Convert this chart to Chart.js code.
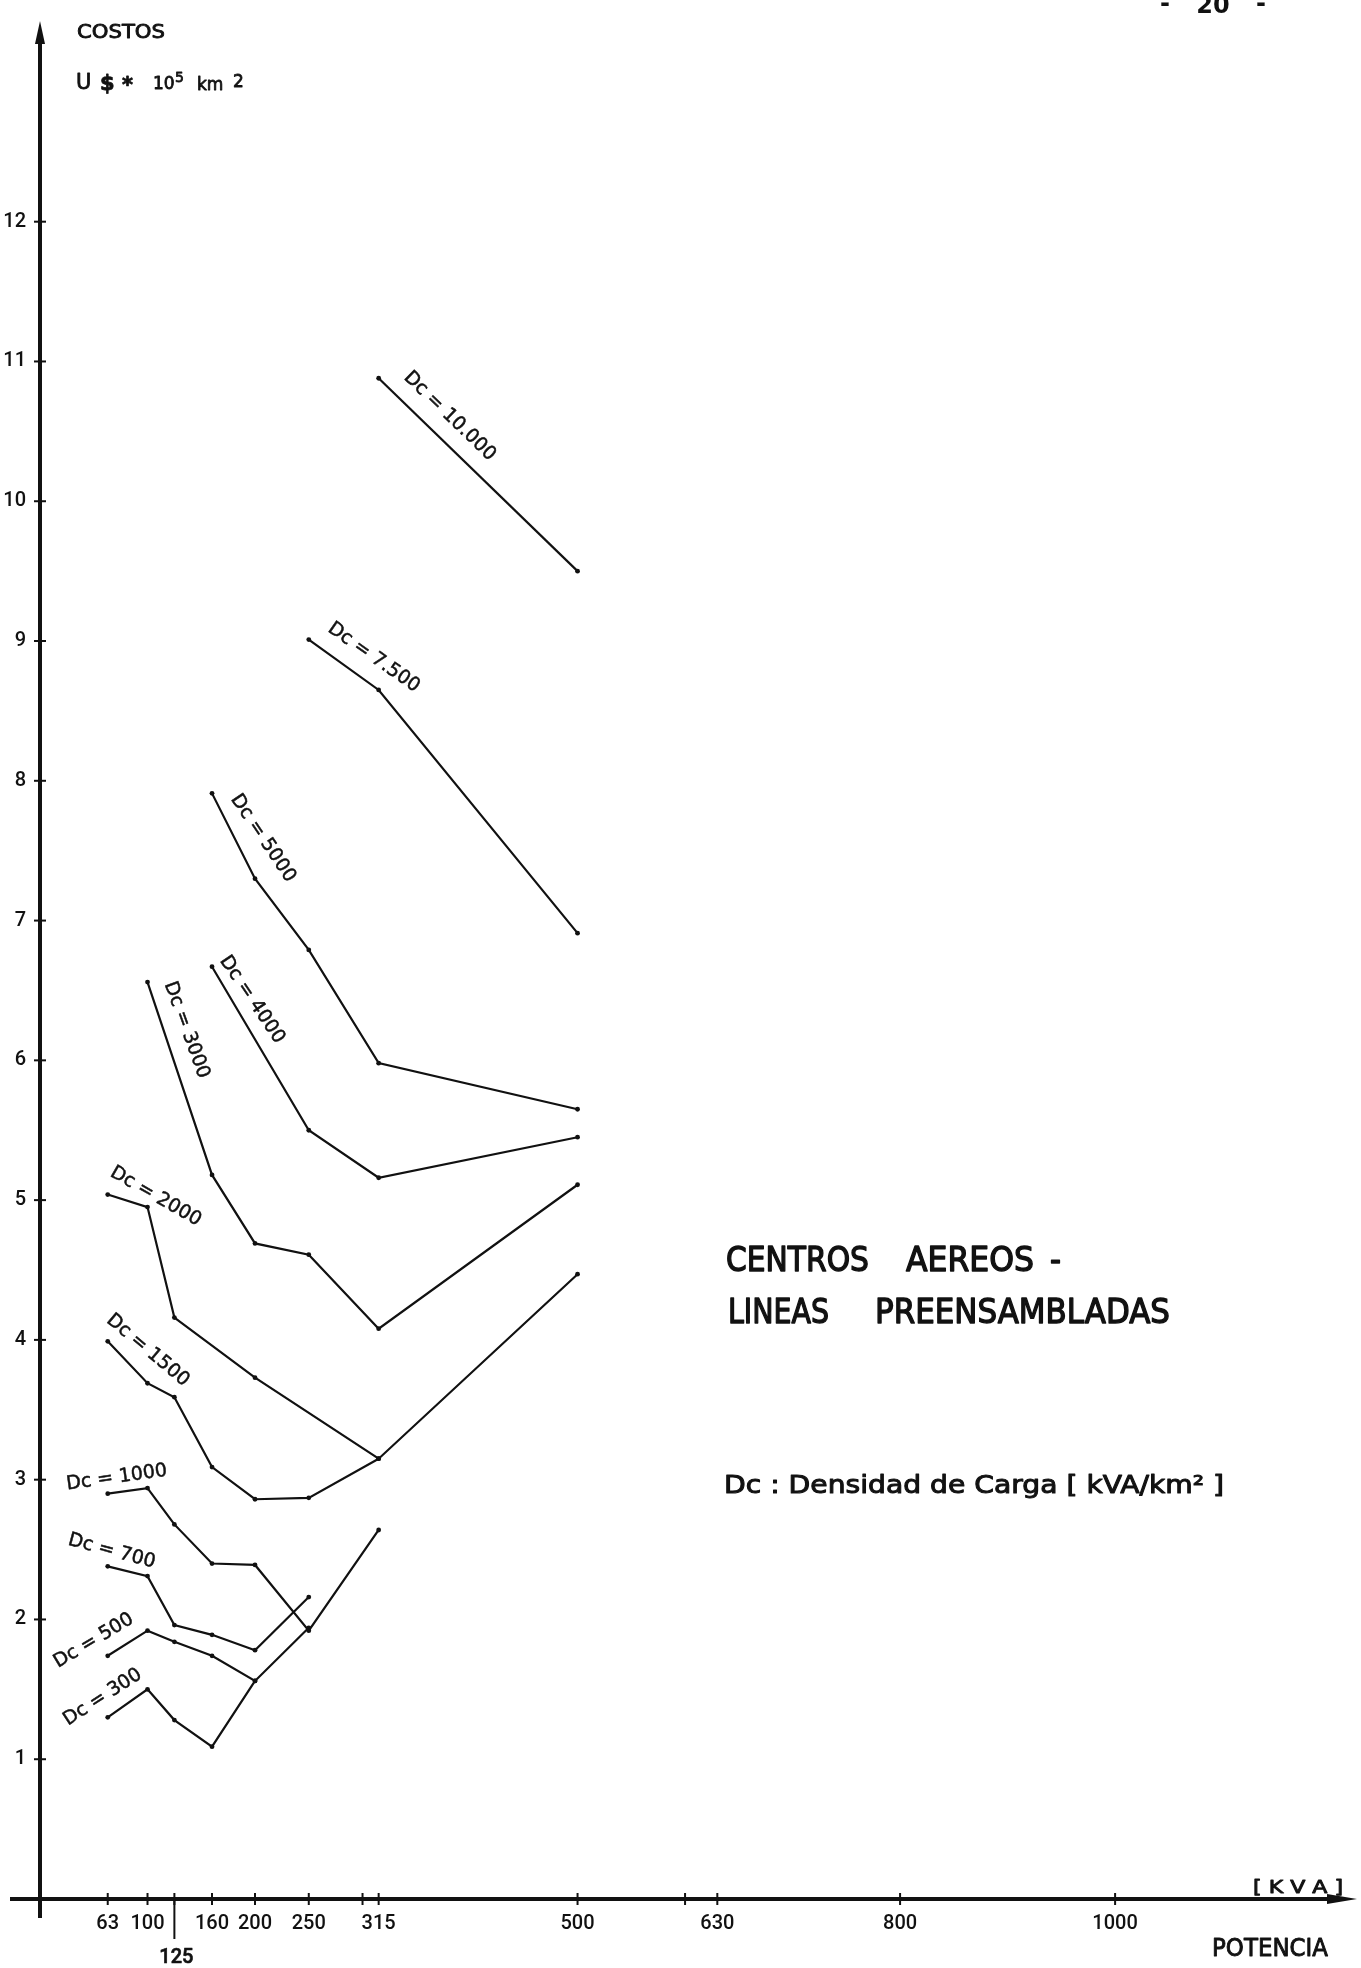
<!DOCTYPE html>
<html>
<head>
<meta charset="utf-8">
<script src="https://cdn.jsdelivr.net/npm/chart.js@4.4.1/dist/chart.umd.min.js"></script>
<style>
  html, body { margin: 0; padding: 0; background: #fff; }
  canvas { display: block; }
</style>
</head>
<body>
<canvas id="graphic" width="1361" height="1968"></canvas>
<script>
  // potencia nominal de los centros (kVA)
  const kvaRatings = [63, 100, 125, 160, 200, 250, 315, 500];

  // marcas del eje x y sus rotulos ("" = marca sin rotulo)
  const xTicks  = [63, 100, 125, 160, 200, 250, 300, 315, 500, 600, 630, 800, 1000];
  const xLabels = ["63", "100", "", "160", "200", "250", "", "315", "500", "", "630", "800", "1000"];
  const yTicks  = [1, 2, 3, 4, 5, 6, 7, 8, 9, 10, 11, 12];

  // costos (U$ * 10^5 km2) por densidad de carga, null = sin punto
  const dc300   = [1.30, 1.50, 1.28, 1.09, 1.56, null, null, null];
  const dc500   = [1.74, 1.92, 1.84, 1.74, 1.56, 1.94, null, null];
  const dc700   = [2.38, 2.31, 1.96, 1.89, 1.78, 2.16, null, null];
  const dc1000  = [2.90, 2.94, 2.68, 2.40, 2.39, 1.92, 2.64, null];
  const dc1500  = [3.99, 3.69, 3.59, 3.09, 2.86, 2.87, 3.15, null];
  const dc2000  = [5.04, 4.95, 4.16, null, 3.73, null, 3.15, 4.47];
  const dc3000  = [null, 6.56, null, 5.18, 4.69, 4.61, 4.08, 5.11];
  const dc4000  = [null, null, null, 6.67, null, 5.50, 5.16, 5.45];
  const dc5000  = [null, null, null, 7.91, 7.30, 6.79, 5.98, 5.65];
  const dc7500  = [null, null, null, null, null, 9.01, 8.65, 6.91];
  const dc10000 = [null, null, null, null, null, null, 10.88, 9.50];

  const series = [
    { name: "Dc = 300",    values: dc300 },
    { name: "Dc = 500",    values: dc500 },
    { name: "Dc = 700",    values: dc700 },
    { name: "Dc = 1000",   values: dc1000 },
    { name: "Dc = 1500",   values: dc1500 },
    { name: "Dc = 2000",   values: dc2000 },
    { name: "Dc = 3000",   values: dc3000 },
    { name: "Dc = 4000",   values: dc4000 },
    { name: "Dc = 5000",   values: dc5000 },
    { name: "Dc = 7.500",  values: dc7500 },
    { name: "Dc = 10.000", values: dc10000 },
  ];

  // rotulo de cada curva: desplazamiento desde su primer punto y angulo
  const labelPlacement = [
    [-5, -20, -33], [-14, -15, -31], [4, -15, 15], [9, -16, -8],
    [40, 9, 40], [48, 2, 30], [39, 48, 70], [40, 33, 56],
    [51, 45, 56], [65, 18, 35], [71, 38, 44],
  ];

  const ink = "#111";

  // texto algo mas grueso, como el rotulado a plantilla
  function heavyText(ctx, text, x, y, weight) {
    ctx.lineWidth = weight;
    ctx.lineJoin = "round";
    ctx.strokeText(text, x, y);
    ctx.fillText(text, x, y);
  }

  function fitText(ctx, text, x, y, width, font, weight) {
    ctx.font = font;
    const w = ctx.measureText(text).width;
    ctx.save();
    ctx.translate(x, y);
    ctx.scale(width / w, 1);
    ctx.textAlign = "left";
    ctx.textBaseline = "alphabetic";
    heavyText(ctx, text, 0, 0, weight || 1);
    ctx.restore();
  }

  function plainText(ctx, text, x, y, font) {
    ctx.font = font;
    ctx.textAlign = "left";
    ctx.textBaseline = "alphabetic";
    heavyText(ctx, text, x, y, 0.8);
  }

  const annotate = {
    id: "annotate",
    afterDraw(chart) {
      const ctx = chart.ctx;
      const xs = chart.scales.x, ys = chart.scales.y;
      const ox = xs.left, oy = ys.bottom;
      ctx.save();
      ctx.fillStyle = ink;
      ctx.strokeStyle = ink;

      // eje y con flecha
      ctx.lineWidth = 4;
      ctx.beginPath();
      ctx.moveTo(ox, oy + 19);
      ctx.lineTo(ox, ys.top + 14);
      ctx.stroke();
      ctx.beginPath();
      ctx.moveTo(ox, ys.top - 5);
      ctx.lineTo(ox - 5, ys.top + 18);
      ctx.lineTo(ox + 5, ys.top + 18);
      ctx.closePath();
      ctx.fill();

      // eje x con flecha
      ctx.beginPath();
      ctx.moveTo(ox - 30, oy);
      ctx.lineTo(xs.right - 24, oy);
      ctx.stroke();
      ctx.beginPath();
      ctx.moveTo(xs.right, oy);
      ctx.lineTo(xs.right - 30, oy - 5);
      ctx.lineTo(xs.right - 30, oy + 5);
      ctx.closePath();
      ctx.fill();

      // marcas
      ctx.lineWidth = 2;
      yTicks.forEach(v => {
        const py = ys.getPixelForValue(v);
        ctx.beginPath(); ctx.moveTo(ox - 6, py); ctx.lineTo(ox + 6, py); ctx.stroke();
      });
      xTicks.forEach(v => {
        const px = xs.getPixelForValue(v);
        ctx.beginPath(); ctx.moveTo(px, oy - 6); ctx.lineTo(px, oy + 6); ctx.stroke();
      });

      // 125 va mas abajo, con su trazo
      const p125 = xs.getPixelForValue(125);
      ctx.beginPath(); ctx.moveTo(p125, oy); ctx.lineTo(p125, oy + 40); ctx.stroke();
      ctx.font = "500 20px Roboto";
      ctx.textAlign = "center";
      ctx.textBaseline = "alphabetic";
      heavyText(ctx, "125", p125 + 2, 1963, 0.6);

      // rotulos de las curvas
      chart.data.datasets.forEach((ds, i) => {
        const p = ds.data[0];
        const [dx, dy, ang] = labelPlacement[i];
        ctx.save();
        ctx.translate(xs.getPixelForValue(p.x) + dx, ys.getPixelForValue(p.y) + dy);
        ctx.rotate(ang * Math.PI / 180);
        ctx.font = "19px 'DejaVu Sans'";
        ctx.textAlign = "center";
        ctx.textBaseline = "middle";
        heavyText(ctx, ds.label, 0, 0, 0.5);
        ctx.restore();
      });

      // titulos de ejes
      fitText(ctx, "COSTOS", 77, 38, 88, "20px 'DejaVu Sans'", 0.9);
      plainText(ctx, "U", 76, 89, "21px 'DejaVu Sans'");
      plainText(ctx, "$", 100, 90, "bold 21px 'DejaVu Sans'");
      plainText(ctx, "*", 122, 92, "bold 21px 'DejaVu Sans'");
      plainText(ctx, "10", 153, 89, "17px 'DejaVu Sans'");
      plainText(ctx, "5", 175, 82, "14px 'DejaVu Sans'");
      plainText(ctx, "km", 197, 90, "17px 'DejaVu Sans'");
      plainText(ctx, "2", 233, 87, "17px 'DejaVu Sans'");
      fitText(ctx, "[ K V A ]", 1253, 1893, 90, "18px 'DejaVu Sans'", 0.9);
      fitText(ctx, "POTENCIA", 1212, 1956, 116, "24px 'DejaVu Sans'", 0.9);

      // titulo del grafico
      fitText(ctx, "CENTROS", 726, 1271, 143, "34px 'DejaVu Sans'", 1.4);
      fitText(ctx, "AEREOS", 906, 1271, 128, "34px 'DejaVu Sans'", 1.4);
      fitText(ctx, "-", 1050, 1271, 11, "34px 'DejaVu Sans'", 1.4);
      fitText(ctx, "LINEAS", 728, 1323, 101, "34px 'DejaVu Sans'", 1.4);
      fitText(ctx, "PREENSAMBLADAS", 875, 1323, 295, "34px 'DejaVu Sans'", 1.4);
      fitText(ctx, "Dc : Densidad de Carga [ kVA/km\u00b2 ]", 724, 1493, 500, "25px 'DejaVu Sans'", 1);

      // numero de pagina
      ctx.textAlign = "center";
      ctx.font = "bold 24px 'DejaVu Sans'";
      ctx.fillText("20", 1213, 13);
      ctx.fillText("-", 1165, 11);
      ctx.fillText("-", 1261, 11);
      ctx.restore();
    }
  };

  const ctx = document.getElementById("graphic").getContext("2d");
  const chart = new Chart(ctx, {
    type: "line",
    data: {
      datasets: series.map(s => ({
        label: s.name,
        data: kvaRatings
          .map((k, i) => ({ x: k, y: s.values[i] }))
          .filter(p => p.y !== null),
        borderColor: ink,
        backgroundColor: ink,
        borderWidth: 2.2,
        pointRadius: 2.4,
        pointBorderWidth: 0,
        pointBackgroundColor: ink,
        tension: 0,
        fill: false,
      })),
    },
    options: {
      responsive: false,
      animation: false,
      devicePixelRatio: 1,
      layout: { padding: { top: 10, right: 0, bottom: 0, left: 0 } },
      plugins: { legend: { display: false }, tooltip: { enabled: false } },
      scales: {
        x: {
          type: "linear",
          min: 0,
          max: 1225,
          grid: { display: false, drawTicks: false },
          border: { display: false },
          afterBuildTicks: s => { s.ticks = xTicks.map(v => ({ value: v })); },
          afterFit: s => { s.height = 69; },
          ticks: {
            autoSkip: false,
            maxRotation: 0,
            minRotation: 0,
            padding: 13,
            color: ink,
            font: { family: "Roboto", size: 20, weight: "500" },
            callback: v => xLabels[xTicks.indexOf(v)],
          },
        },
        y: {
          type: "linear",
          min: 0,
          max: 13.4,
          grid: { display: false, drawTicks: false },
          border: { display: false },
          afterBuildTicks: s => { s.ticks = yTicks.map(v => ({ value: v })); },
          afterFit: s => { s.width = 40; },
          ticks: {
            padding: 14,
            color: ink,
            font: { family: "Roboto", size: 20, weight: "500" },
            callback: v => String(v),
          },
        },
      },
    },
    plugins: [annotate],
  });
</script>
</body>
</html>
